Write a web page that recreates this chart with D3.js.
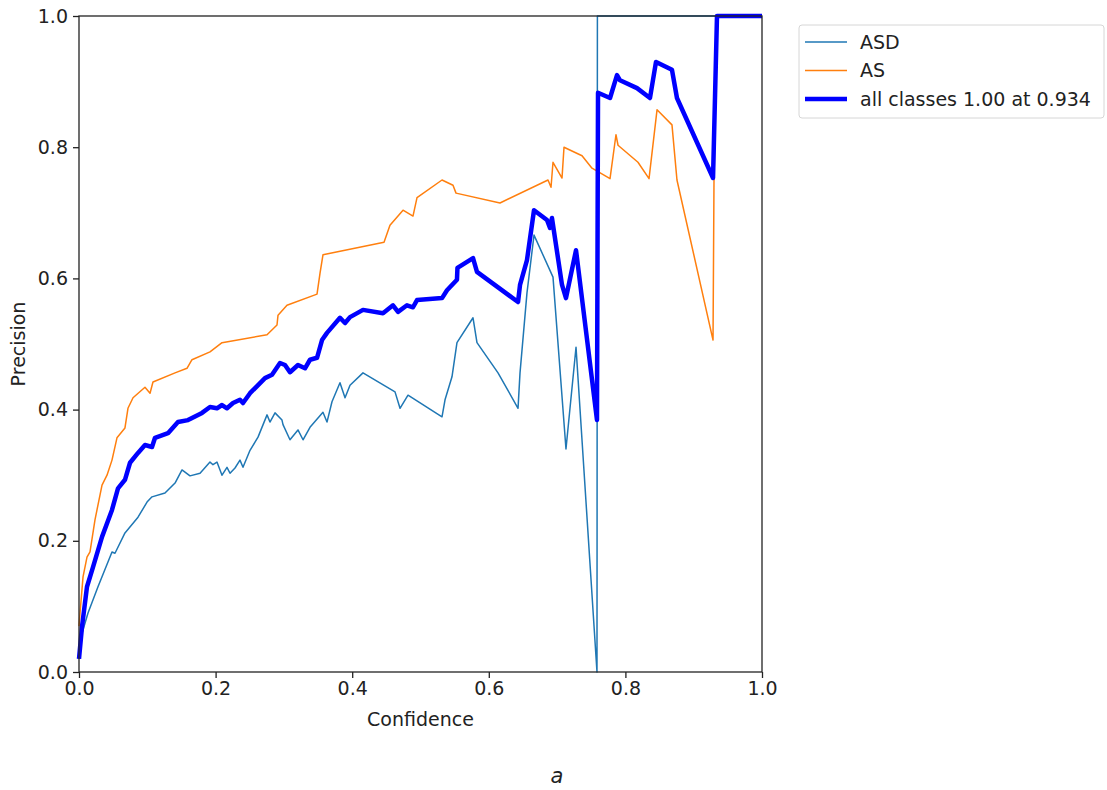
<!DOCTYPE html>
<html>
<head>
<meta charset="utf-8">
<script src="https://cdn.jsdelivr.net/npm/d3@7"></script>
<style>
  body { margin: 0; background: #fff; }
  text { font-family: "DejaVu Sans", sans-serif; fill: #222; }
</style>
</head>
<body>
<div id="container"></div>
<script>
// precision-confidence curves
var asdConf = [0, 0.0044, 0.0132, 0.0278, 0.0483, 0.0527, 0.0673, 0.0864, 0.0996, 0.1069, 0.1259, 0.1406, 0.1508, 0.1625, 0.1772, 0.1918, 0.1962, 0.2020, 0.2094, 0.2167, 0.2211, 0.2284, 0.2357, 0.2401, 0.2504, 0.2621, 0.2753, 0.2796, 0.2870, 0.2972, 0.2987, 0.3089, 0.3206, 0.3280, 0.3382, 0.3572, 0.3631, 0.3704, 0.3821, 0.3895, 0.3968, 0.4158, 0.4627, 0.4700, 0.4817, 0.5315, 0.5359, 0.5461, 0.5534, 0.5769, 0.5827, 0.6135, 0.6428, 0.6457, 0.6559, 0.6662, 0.6940, 0.7130, 0.7277, 0.7584, 0.7590, 1.0];
var asdPrec = [0.02, 0.059, 0.090, 0.130, 0.183, 0.181, 0.212, 0.236, 0.259, 0.267, 0.273, 0.288, 0.308, 0.299, 0.303, 0.320, 0.316, 0.320, 0.300, 0.312, 0.303, 0.311, 0.323, 0.312, 0.338, 0.358, 0.392, 0.381, 0.395, 0.384, 0.377, 0.354, 0.369, 0.354, 0.373, 0.396, 0.381, 0.412, 0.441, 0.418, 0.437, 0.456, 0.427, 0.402, 0.422, 0.389, 0.415, 0.450, 0.502, 0.540, 0.502, 0.456, 0.402, 0.456, 0.578, 0.666, 0.602, 0.340, 0.495, 0.0, 1.0, 1.0];

var asConf = [0, 0.0015, 0.0059, 0.0117, 0.0161, 0.0234, 0.0337, 0.0410, 0.0483, 0.0556, 0.0673, 0.0717, 0.0791, 0.0966, 0.1040, 0.1083, 0.1406, 0.1581, 0.1654, 0.1918, 0.2094, 0.2753, 0.2899, 0.2914, 0.3045, 0.3485, 0.3529, 0.3572, 0.4466, 0.4553, 0.4744, 0.4890, 0.4949, 0.5315, 0.5476, 0.5520, 0.6164, 0.6867, 0.6911, 0.6940, 0.7072, 0.7101, 0.7365, 0.7511, 0.7775, 0.7862, 0.7892, 0.8184, 0.8346, 0.8463, 0.8682, 0.8755, 0.9283, 0.9297, 0.934, 1.0];
var asPrec = [0.07, 0.090, 0.145, 0.175, 0.183, 0.232, 0.285, 0.300, 0.323, 0.357, 0.372, 0.402, 0.418, 0.434, 0.425, 0.442, 0.456, 0.463, 0.476, 0.488, 0.502, 0.514, 0.529, 0.544, 0.559, 0.576, 0.608, 0.636, 0.655, 0.681, 0.704, 0.695, 0.723, 0.750, 0.742, 0.730, 0.715, 0.750, 0.739, 0.777, 0.753, 0.800, 0.787, 0.768, 0.752, 0.819, 0.803, 0.777, 0.752, 0.857, 0.834, 0.750, 0.506, 0.747, 1.0, 1.0];

var allConf = [0, 0.0044, 0.0117, 0.0205, 0.0337, 0.0483, 0.0571, 0.0673, 0.0747, 0.0864, 0.0966, 0.1069, 0.1113, 0.1303, 0.1449, 0.1596, 0.1801, 0.1918, 0.2020, 0.2094, 0.2167, 0.2255, 0.2357, 0.2401, 0.2504, 0.2723, 0.2826, 0.2943, 0.3016, 0.3089, 0.3206, 0.3309, 0.3382, 0.3485, 0.3558, 0.3631, 0.3821, 0.3895, 0.3968, 0.4158, 0.4451, 0.4597, 0.4671, 0.4802, 0.4890, 0.4949, 0.5315, 0.5388, 0.5534, 0.5541, 0.5769, 0.5827, 0.6428, 0.6457, 0.6559, 0.6662, 0.6852, 0.6896, 0.6925, 0.7072, 0.7130, 0.7277, 0.7584, 0.7599, 0.7775, 0.7877, 0.7921, 0.8170, 0.8360, 0.8448, 0.8682, 0.8755, 0.9283, 0.9341, 1.0];
var allPrec = [0.02, 0.069, 0.130, 0.160, 0.206, 0.247, 0.280, 0.293, 0.319, 0.334, 0.346, 0.343, 0.357, 0.364, 0.381, 0.384, 0.395, 0.404, 0.402, 0.407, 0.402, 0.410, 0.415, 0.410, 0.425, 0.448, 0.453, 0.471, 0.468, 0.457, 0.468, 0.463, 0.476, 0.479, 0.506, 0.517, 0.540, 0.532, 0.541, 0.552, 0.547, 0.559, 0.549, 0.559, 0.556, 0.567, 0.570, 0.582, 0.598, 0.616, 0.631, 0.610, 0.564, 0.590, 0.628, 0.704, 0.689, 0.677, 0.692, 0.590, 0.570, 0.643, 0.384, 0.883, 0.875, 0.910, 0.902, 0.890, 0.875, 0.930, 0.918, 0.875, 0.753, 1.0, 1.0];

var seriesNames = ["ASD", "AS", "all classes 1.00 at 0.934"];
var seriesColors = ["#1f77b4", "#ff7f0e", "#0000ff"];
var seriesWidths = [1.5, 1.5, 4.5];
var ticks = [0, 0.2, 0.4, 0.6, 0.8, 1.0];

var width = 1107;
var height = 790;
var mLeft = 79, mRight = 762, mTop = 16, mBottom = 672;
var fontSize = "19px";

var svg = d3
  .select("#container")
  .append("svg")
  .attr("width", width)
  .attr("height", height);

var x = d3.scaleLinear().domain([0, 1]).range([mLeft, mRight]);
var y = d3.scaleLinear().domain([0, 1]).range([mBottom, mTop]);

var line = d3.line()
  .x(d => x(d[0]))
  .y(d => y(d[1]));

var series = [
  d3.zip(asdConf, asdPrec),
  d3.zip(asConf, asPrec),
  d3.zip(allConf, allPrec)
];

svg.append("clipPath").attr("id", "clip")
  .append("rect")
  .attr("x", mLeft - 3).attr("y", mTop - 3)
  .attr("width", mRight - mLeft + 6).attr("height", mBottom - mTop + 6);

svg.selectAll("path.curve")
  .data(series)
  .enter()
  .append("path")
  .attr("class", "curve")
  .attr("clip-path", "url(#clip)")
  .attr("d", line)
  .attr("fill", "none")
  .attr("stroke", (d, i) => seriesColors[i])
  .attr("stroke-width", (d, i) => seriesWidths[i])
  .attr("stroke-linejoin", "round");

// axes
var xAxis = svg.append("g")
  .attr("transform", "translate(0," + mBottom + ")")
  .call(d3.axisBottom(x).tickValues(ticks).tickFormat(d3.format(".1f")).tickSize(6).tickPadding(4));

var yAxis = svg.append("g")
  .attr("transform", "translate(" + mLeft + ",0)")
  .call(d3.axisLeft(y).tickValues(ticks).tickFormat(d3.format(".1f")).tickSize(6).tickPadding(5));

[xAxis, yAxis].forEach(function(a) {
  a.select(".domain").remove();
  a.selectAll("line").attr("stroke", "#222").attr("stroke-width", 1.3);
  a.selectAll("text")
    .style("font-family", "DejaVu Sans, sans-serif")
    .style("font-size", fontSize)
    .attr("fill", "#222");
});

// frame
svg.append("rect")
  .attr("x", mLeft).attr("y", mTop)
  .attr("width", mRight - mLeft).attr("height", mBottom - mTop)
  .attr("fill", "none")
  .attr("stroke", "#222")
  .attr("stroke-width", 1.3);

svg.append("text")
  .attr("x", (mLeft + mRight) / 2)
  .attr("y", 726)
  .style("text-anchor", "middle")
  .style("font-size", fontSize)
  .text("Confidence");

svg.append("text")
  .attr("transform", "translate(25," + ((mTop + mBottom) / 2) + ") rotate(-90)")
  .style("text-anchor", "middle")
  .style("font-size", fontSize)
  .text("Precision");

// legend
var legend = svg.append("g").attr("transform", "translate(799,25)");
legend.append("rect")
  .attr("width", 305)
  .attr("height", 93)
  .attr("rx", 3)
  .attr("fill", "#fff")
  .attr("stroke", "#d6d6d6")
  .attr("stroke-width", 1);

var rows = legend.selectAll("g.row")
  .data(seriesNames)
  .enter()
  .append("g")
  .attr("class", "row")
  .attr("transform", (d, i) => "translate(0," + (17 + i * 28.5) + ")");

rows.append("line")
  .attr("x1", 6).attr("x2", 48)
  .attr("stroke", (d, i) => seriesColors[i])
  .attr("stroke-width", (d, i) => seriesWidths[i]);

rows.append("text")
  .attr("x", 61)
  .attr("dy", "0.35em")
  .style("font-size", fontSize)
  .text(d => d);

// caption
svg.append("text")
  .attr("x", 557)
  .attr("y", 783)
  .style("text-anchor", "middle")
  .style("font-size", "21px")
  .style("font-style", "italic")
  .text("a");
</script>
</body>
</html>
